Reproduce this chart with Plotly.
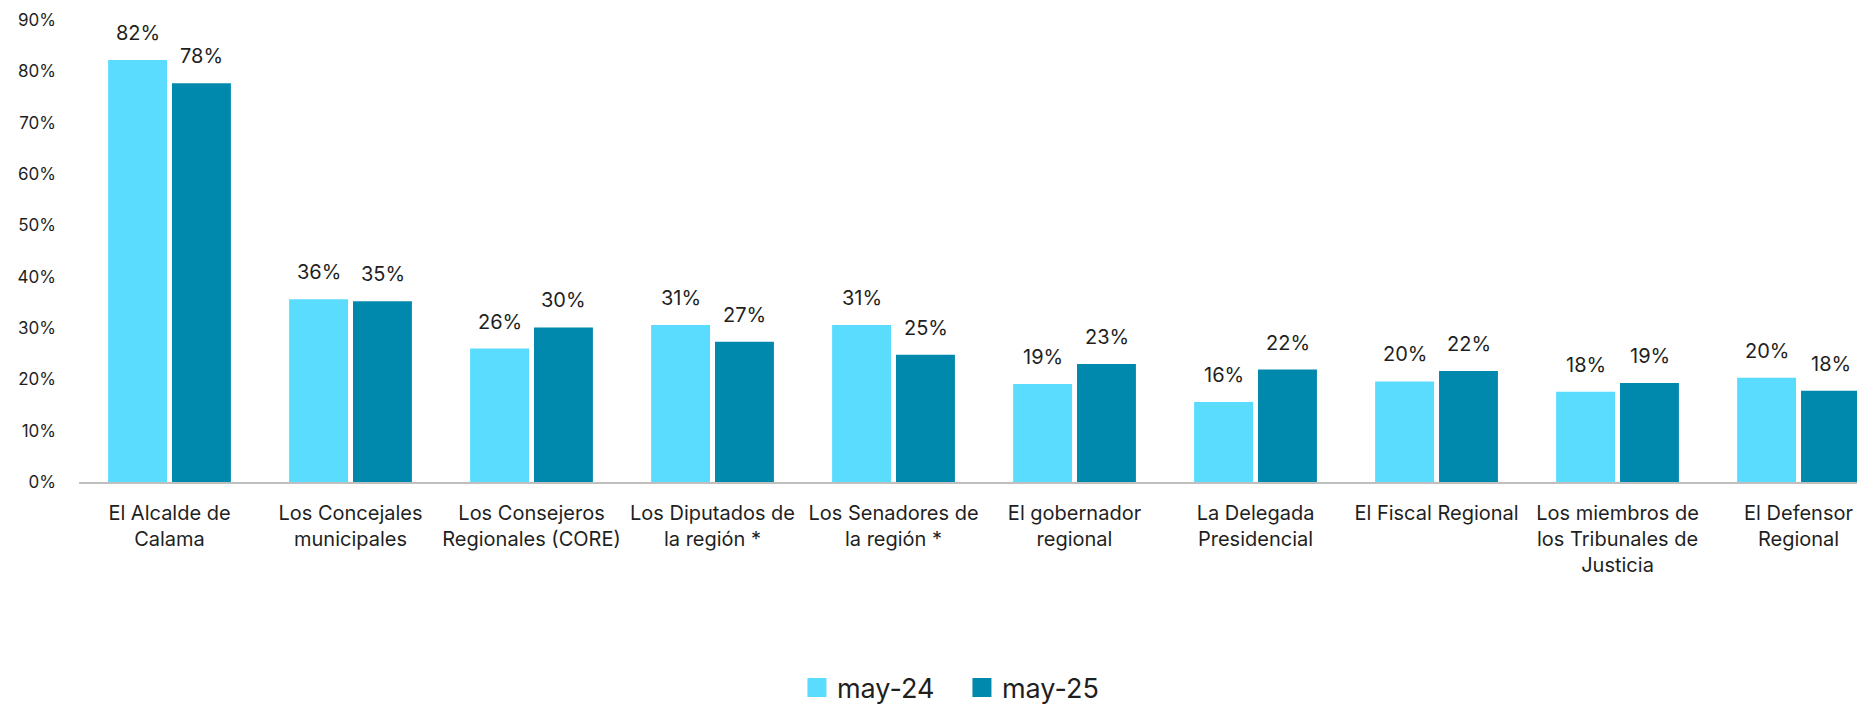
import plotly.graph_objects as go

categories = [
    "El Alcalde de<br>Calama",
    "Los Concejales<br>municipales",
    "Los Consejeros<br>Regionales (CORE)",
    "Los Diputados de<br>la región *",
    "Los Senadores de<br>la región *",
    "El gobernador<br>regional",
    "La Delegada<br>Presidencial",
    "El Fiscal Regional",
    "Los miembros de<br>los Tribunales de<br>Justicia",
    "El Defensor<br>Regional",
]
may24 = [0.822, 0.356, 0.260, 0.306, 0.306, 0.191, 0.156, 0.196, 0.176, 0.203]
may25 = [0.777, 0.352, 0.301, 0.273, 0.248, 0.230, 0.219, 0.216, 0.193, 0.178]
series_names = ["may-24", "may-25"]
tick_vals = [0, 0.1, 0.2, 0.3, 0.4, 0.5, 0.6, 0.7, 0.8, 0.9]
tick_text = ["0%", "10%", "20%", "30%", "40%", "50%", "60%", "70%", "80%", "90%"]

colors = ["#5ADCFF", "#0089AD"]
text_color = "#1F1F1F"
num_font = "Inter, Roboto, sans-serif"

fig = go.Figure()
for name, vals, col in zip(series_names, [may24, may25], colors):
    fig.add_trace(go.Bar(
        x=categories, y=vals, name=name, marker=dict(color=col, line=dict(width=0)),
        showlegend=False, hoverinfo="skip",
    ))
    # legend proxy with larger square symbol
    fig.add_trace(go.Scatter(
        x=[None], y=[None], mode="markers", name=name,
        marker=dict(symbol="square", size=16, color=col, line=dict(color=col, width=3)),
        showlegend=True, hoverinfo="skip",
    ))

annotations = []
for vals, shift in [(may24, -32), (may25, 32)]:
    for c, v in zip(categories, vals):
        annotations.append(dict(
            x=c, y=v, xref="x", yref="y", text=f"{round(v * 100)}%",
            showarrow=False, xshift=shift, yshift=13, yanchor="bottom",
            font=dict(family=num_font, size=20, color=text_color),
        ))

fig.update_layout(
    width=1857, height=706,
    margin=dict(l=79, r=0, t=20, b=224, autoexpand=False),
    paper_bgcolor="white", plot_bgcolor="white",
    barmode="group", bargap=0.294, bargroupgap=0.078,
    annotations=annotations,
    legend=dict(
        orientation="h", x=0.4038, xanchor="left", y=-0.4459, yanchor="middle",
        font=dict(family=num_font, size=27, color=text_color),
        itemsizing="trace", entrywidth=120, entrywidthmode="pixels",
    ),
    xaxis=dict(
        range=[-0.5, 9.323], showline=True, linecolor="#BFBFBF", linewidth=2,
        showgrid=False, zeroline=False, ticks="",
        tickfont=dict(family=num_font, size=20, color=text_color),
        ticklabelstandoff=12, tickangle=0,
    ),
    yaxis=dict(
        range=[0, 0.9], tickvals=tick_vals, ticktext=tick_text,
        showgrid=False, zeroline=False, showline=False, ticks="",
        tickfont=dict(family=num_font, size=17, color=text_color),
        ticklabelstandoff=22,
    ),
)

fig.write_html(
    "out.html",
    config={"displayModeBar": False},
    post_script="document.body.style.margin='0';document.body.style.overflow='hidden';",
)
